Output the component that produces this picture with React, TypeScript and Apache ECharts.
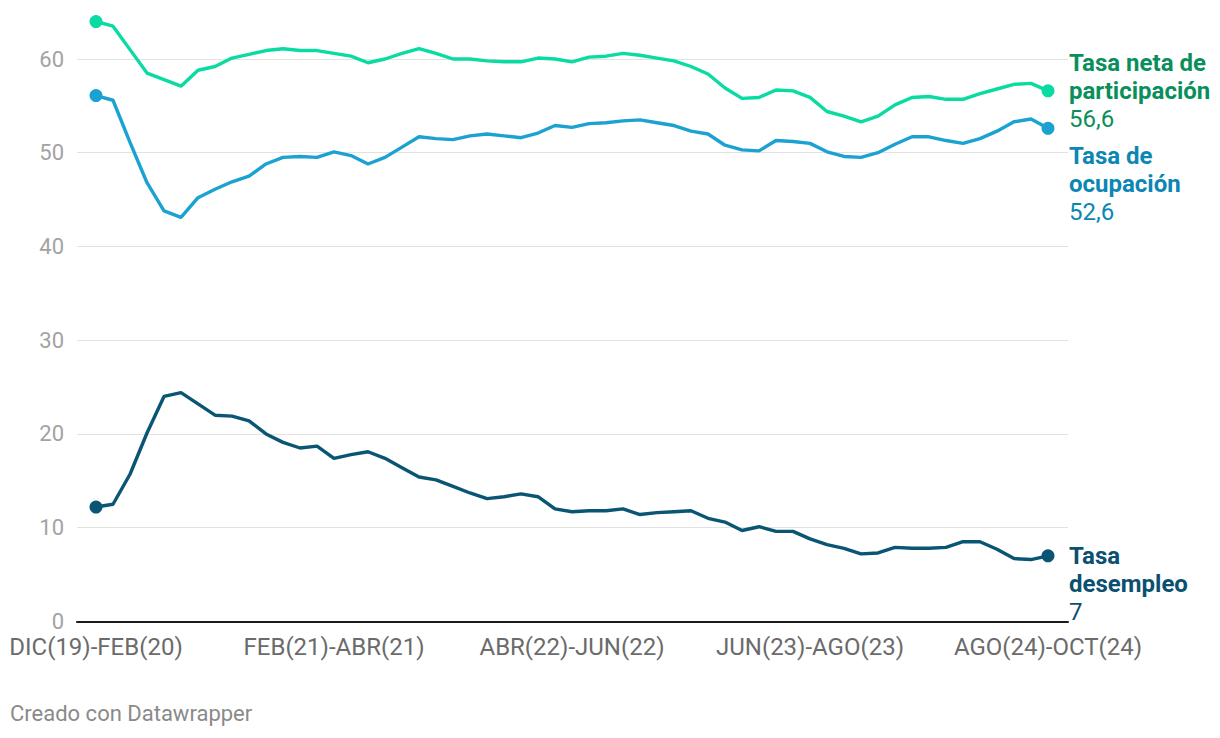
import React, { useEffect, useRef } from "react";
import * as echarts from "echarts";

const MONTHS = ["ENE", "FEB", "MAR", "ABR", "MAY", "JUN", "JUL", "AGO", "SEP", "OCT", "NOV", "DIC"];

// Rolling quarters from DIC(19)-FEB(20) to AGO(24)-OCT(24)
const categories: string[] = Array.from({ length: 57 }, (_, i) => {
  const s = 11 + i;
  const e = s + 2;
  return `${MONTHS[s % 12]}(${19 + Math.floor(s / 12)})-${MONTHS[e % 12]}(${19 + Math.floor(e / 12)})`;
});

const tickIndices = [0, 14, 28, 42, 56];

const participacion = [
  64.0, 63.5, 61.0, 58.5, 57.8, 57.1, 58.8, 59.2, 60.1, 60.5,
  60.9, 61.1, 60.9, 60.9, 60.6, 60.3, 59.6, 60.0, 60.6, 61.1,
  60.6, 60.0, 60.0, 59.8, 59.7, 59.7, 60.1, 60.0, 59.7, 60.2,
  60.3, 60.6, 60.4, 60.1, 59.8, 59.2, 58.4, 56.9, 55.8, 55.9,
  56.7, 56.6, 55.9, 54.4, 53.9, 53.3, 53.9, 55.1, 55.9, 56.0,
  55.7, 55.7, 56.3, 56.8, 57.3, 57.4, 56.6,
];

const ocupacion = [
  56.1, 55.6, 51.1, 46.8, 43.8, 43.1, 45.2, 46.1, 46.9, 47.5,
  48.8, 49.5, 49.6, 49.5, 50.1, 49.7, 48.8, 49.5, 50.6, 51.7,
  51.5, 51.4, 51.8, 52.0, 51.8, 51.6, 52.1, 52.9, 52.7, 53.1,
  53.2, 53.4, 53.5, 53.2, 52.9, 52.3, 52.0, 50.8, 50.3, 50.2,
  51.3, 51.2, 51.0, 50.1, 49.6, 49.5, 50.0, 50.9, 51.7, 51.7,
  51.3, 51.0, 51.5, 52.3, 53.3, 53.6, 52.6,
];

const desempleo = [
  12.2, 12.5, 15.7, 20.1, 24.0, 24.4, 23.2, 22.0, 21.9, 21.4,
  20.0, 19.1, 18.5, 18.7, 17.4, 17.8, 18.1, 17.4, 16.4, 15.4,
  15.1, 14.4, 13.7, 13.1, 13.3, 13.6, 13.3, 12.0, 11.7, 11.8,
  11.8, 12.0, 11.4, 11.6, 11.7, 11.8, 11.0, 10.6, 9.7, 10.1,
  9.6, 9.6, 8.8, 8.2, 7.8, 7.2, 7.3, 7.9, 7.8, 7.8,
  7.9, 8.5, 8.5, 7.7, 6.7, 6.6, 7.0,
];

const FONT = "Roboto, 'Noto Sans', sans-serif";

function toData(values: number[]) {
  const last = values.length - 1;
  return values.map((v, i) =>
    i === 0 || i === last
      ? { value: [i, v], symbol: "circle", symbolSize: 13 }
      : { value: [i, v], symbol: "none" }
  );
}

function makeSeries(
  name: string,
  values: number[],
  lineColor: string,
  labelColor: string,
  titleLines: string[],
  dy: number
) {
  return {
    name,
    type: "line",
    data: toData(values),
    clip: false,
    showSymbol: true,
    showAllSymbol: true,
    lineStyle: { color: lineColor, width: 3.4 },
    itemStyle: { color: lineColor },
    emphasis: { disabled: true },
    endLabel: {
      show: true,
      distance: 21,
      offset: [0, dy],
      align: "left",
      verticalAlign: "middle",
      formatter: (p: any) => {
        const v = Array.isArray(p.value) ? p.value[1] : p.value;
        const title = titleLines.map((t) => `{b|${t}}`).join("\n");
        return `${title}\n{v|${String(v).replace(".", ",")}}`;
      },
      rich: {
        b: { fontFamily: FONT, fontSize: 24, fontWeight: "bold", color: labelColor, lineHeight: 28 },
        v: { fontFamily: FONT, fontSize: 24, color: labelColor, lineHeight: 28 },
      },
    },
  };
}

export default function App() {
  const ref = useRef<HTMLDivElement>(null);

  useEffect(() => {
    if (!ref.current) return;
    const chart = echarts.init(ref.current, undefined, { renderer: "svg" });
    const gridLeft = 77;
    const gridRight = 1068;
    const firstX = 96;
    const lastX = 1048;
    const step = (lastX - firstX) / 56;
    chart.setOption({
      animation: false,
      backgroundColor: "#ffffff",
      textStyle: { fontFamily: FONT },
      grid: { left: gridLeft, right: 1220 - gridRight, top: 59, bottom: 738 - 621.4, containLabel: false },
      xAxis: {
        type: "value",
        min: -(firstX - gridLeft) / step,
        max: 56 + (gridRight - lastX) / step,
        axisLine: { show: true, onZero: true, lineStyle: { color: "#1a1a1a", width: 2 } },
        axisTick: { show: false },
        splitLine: { show: false },
        axisLabel: {
          customValues: tickIndices,
          formatter: (v: number) => categories[Math.round(v)] ?? "",
          color: "#6b6b6b",
          fontSize: 24,
          fontFamily: FONT,
          margin: 14,
        },
      },
      yAxis: {
        type: "value",
        min: 0,
        max: 60,
        interval: 10,
        axisLine: { show: false },
        axisTick: { show: false },
        splitLine: { show: true, lineStyle: { color: "#e2e2e2", width: 1 } },
        axisLabel: { color: "#a3a3a3", fontSize: 22, fontFamily: FONT, margin: 13 },
      },
      series: [
        makeSeries("Tasa neta de participación", participacion, "#09dba2", "#0a8f5c", ["Tasa neta de", "participación"], 0),
        makeSeries("Tasa de ocupación", ocupacion, "#1ca2d1", "#0b86b5", ["Tasa de", "ocupación"], 56),
        makeSeries("Tasa desempleo", desempleo, "#0a5574", "#0a5070", ["Tasa", "desempleo"], 28),
      ],
      graphic: [
        {
          type: "text",
          left: 10,
          top: 702,
          style: { text: "Creado con Datawrapper", fill: "#8a8a8a", fontSize: 22, fontFamily: FONT },
        },
      ],
    });
    return () => chart.dispose();
  }, []);

  return (
    <div
      ref={ref}
      style={{ position: "absolute", left: 0, top: 0, width: 1220, height: 738 }}
    />
  );
}
